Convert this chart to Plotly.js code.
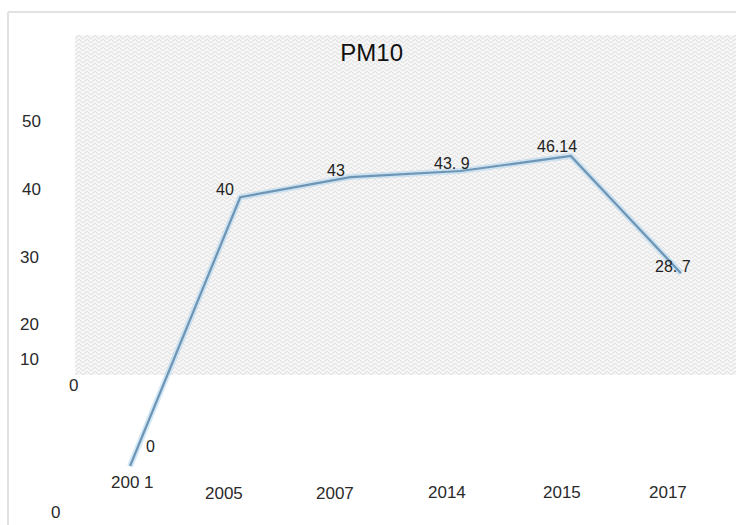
<!DOCTYPE html>
<html>
<head>
<meta charset="utf-8">
<script src="https://cdn.plot.ly/plotly-3.0.1.min.js"></script>
<style>html,body{margin:0;padding:0;background:#fff}#chart{width:736px;height:525px}</style>
</head>
<body>
<div id="chart"></div>
<script>
// ---- data ----
const categories = ['2001', '2005', '2007', '2014', '2015', '2017'];
const values = [0, 40, 43, 43.9, 46.14, 28.7];
const pointLabels = ['0', '40', '43', '43. 9', '46.14', '28. 7'];
const xTickText = ['200 1', '2005', '2007', '2014', '2015', '2017'];
const yTickText = ['50', '40', '30', '20', '10', '0'];
const yTickVals = [51.3, 41.2, 31.1, 21.0, 15.8, 12.0];

// ---- layout helpers (positions / styles only) ----
const labelShift = [[20, 20], [-15, 8], [-14, 7], [-9, 8], [-14, 9], [-8, 7]];
const xLabelShift = [[2, -2], [-16, -13], [-15, -13], [-14, -12], [-9, -12], [-13, -12]];
const yLabelX = [-44, -44, -46, -46, -46, -2];

const font = 'Liberation Sans, Arial, sans-serif';

const svg = "<svg xmlns='http://www.w3.org/2000/svg' width='661' height='340'>" +
  "<defs><pattern id='p' width='8' height='8' patternUnits='userSpaceOnUse'>" +
  "<rect width='8' height='8' fill='#f8f8f8'/>" +
  "<path d='M0 4 L4 0 L8 4 M0 8 L4 4 L8 8' fill='none' stroke='#e4e4e4' stroke-width='1.2'/>" +
  "</pattern></defs><rect width='661' height='340' fill='url(#p)'/></svg>";

const annotations = [];
values.forEach((v, i) => {
  annotations.push({
    x: i, y: v, xref: 'x', yref: 'y', text: pointLabels[i],
    showarrow: false, xanchor: 'center', yanchor: 'middle',
    xshift: labelShift[i][0], yshift: labelShift[i][1],
    font: {family: font, size: 16, color: '#222'}
  });
});
categories.forEach((c, i) => {
  annotations.push({
    x: i, y: 0, xref: 'x', yref: 'paper', text: xTickText[i],
    showarrow: false, xanchor: 'center', yanchor: 'middle',
    xshift: xLabelShift[i][0], yshift: xLabelShift[i][1],
    font: {family: font, size: 17, color: '#2a2a2a'}
  });
});
yTickText.forEach((t, i) => {
  annotations.push({
    x: 0, y: yTickVals[i], xref: 'paper', yref: 'y', text: t,
    showarrow: false, xanchor: 'center', yanchor: 'middle',
    xshift: yLabelX[i],
    font: {family: font, size: 17, color: '#2a2a2a'}
  });
});
// stray bottom zero
annotations.push({
  x: 0, y: 0, xref: 'paper', yref: 'paper', text: yTickText[5],
  showarrow: false, xanchor: 'center', yanchor: 'middle',
  xshift: -20, yshift: -32,
  font: {family: font, size: 17, color: '#2a2a2a'}
});

const traces = [
  {
    x: categories, y: values, type: 'scatter', mode: 'lines',
    line: {color: 'rgba(175,212,236,0.55)', width: 6},
    hoverinfo: 'skip', showlegend: false
  },
  {
    x: categories, y: values, type: 'scatter', mode: 'lines',
    line: {color: '#6c95b6', width: 2.2},
    showlegend: false
  }
];

const layout = {
  width: 736, height: 525,
  margin: {l: 75, r: 0, t: 35, b: 45},
  paper_bgcolor: '#ffffff',
  plot_bgcolor: 'rgba(0,0,0,0)',
  title: {
    text: 'PM10', x: 0.505, xanchor: 'center', y: 0.9, yanchor: 'middle',
    font: {family: font, size: 24, color: '#111111', weight: 500}
  },
  xaxis: {
    type: 'category', range: [-0.5, 5.5], showgrid: false, zeroline: false,
    showline: false, showticklabels: false, ticks: ''
  },
  yaxis: {
    range: [-2.08, 64.14], showgrid: false, zeroline: false,
    showline: false, showticklabels: false, ticks: ''
  },
  images: [{
    source: 'data:image/svg+xml;charset=utf-8,' + encodeURIComponent(svg),
    xref: 'paper', yref: 'paper', x: 0, y: 1, sizex: 1, sizey: 340 / 445,
    xanchor: 'left', yanchor: 'top', sizing: 'stretch', layer: 'below'
  }],
  shapes: [
    {type: 'line', xref: 'paper', yref: 'paper', x0: -0.1014, x1: -0.1014, y0: 1.0517, y1: -0.11,
     line: {color: '#e2e2e2', width: 2}},
    {type: 'line', xref: 'paper', yref: 'paper', x0: -0.1014, x1: 1.01, y0: 1.0517, y1: 1.0517,
     line: {color: '#e2e2e2', width: 2}}
  ],
  annotations: annotations
};

Plotly.newPlot('chart', traces, layout, {displayModeBar: false, staticPlot: true});
</script>
</body>
</html>
